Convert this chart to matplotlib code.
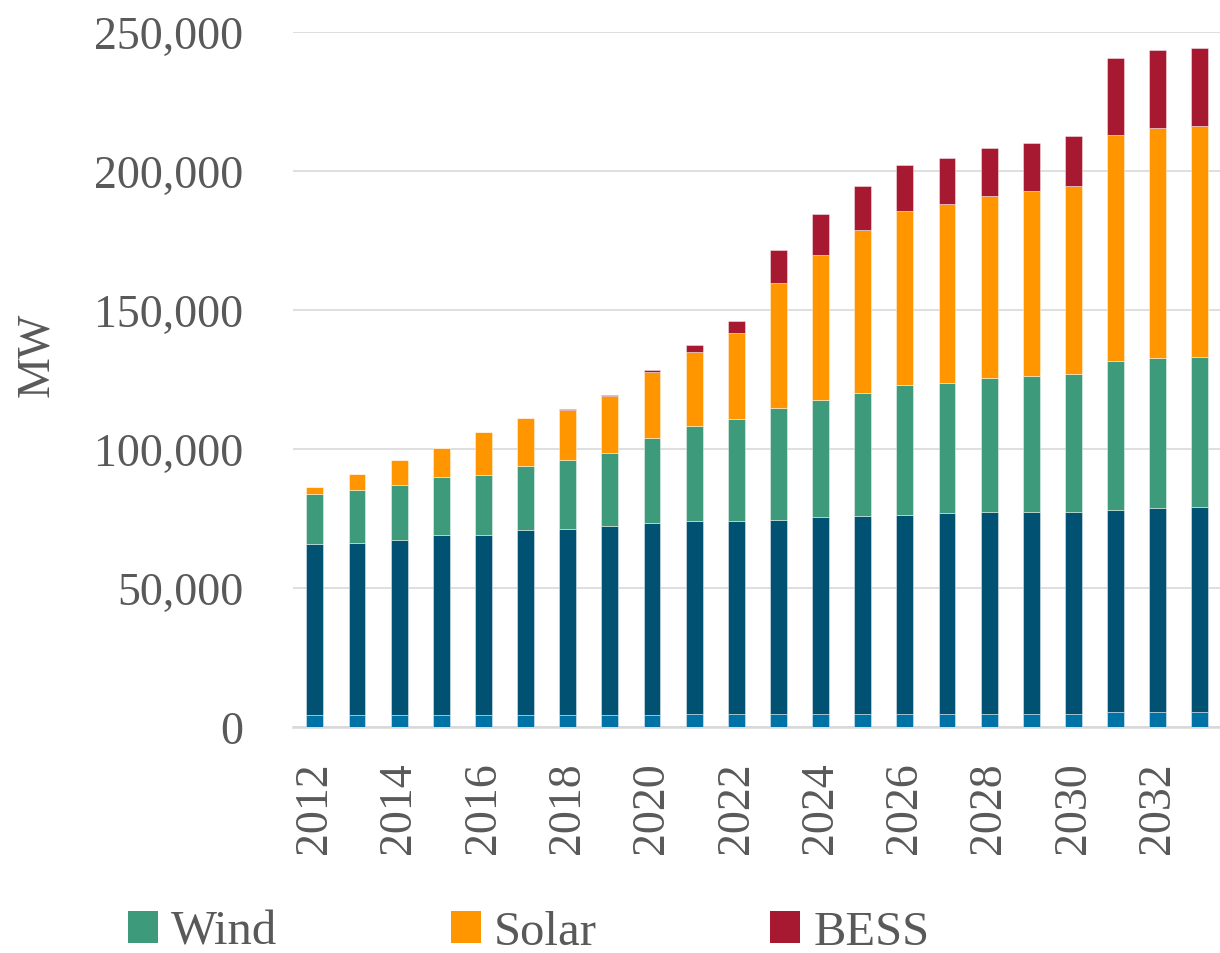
import numpy as np
import matplotlib
matplotlib.use("Agg")
import matplotlib.pyplot as plt
from matplotlib.patches import Patch
from matplotlib.ticker import FuncFormatter

plt.rcParams["font.family"] = ["Liberation Serif", "DejaVu Serif"]

TEXT = "#595959"

years = list(range(2012, 2034))

# stacked segments, MW
base_mw = [4400] * 9 + [4800] * 10 + [5400] * 3
conventional_mw = [61300, 61700, 62700, 64500, 64800, 66300, 67000, 67800, 69100,
                   69400, 69400, 69800, 70700, 71000, 71600, 72200, 72600, 72600,
                   72600, 72800, 73200, 73800]
wind_mw = [18200, 19000, 20100, 20900, 21400, 23300, 24500, 26200, 30500, 33900,
           36600, 40000, 42000, 44200, 46500, 46900, 48100, 48700, 49500, 53600,
           54000, 54000]
solar_mw = [2600, 5900, 8800, 10500, 15500, 17100, 18200, 20800, 23800, 26900,
            30800, 45200, 52400, 58700, 62600, 64100, 65600, 66600, 67800, 81300,
            82900, 83100]
bess_mw = [0, 0, 0, 0, 0, 0, 200, 300, 700, 2500, 4500, 11900, 14800, 15900,
           16600, 16500, 17300, 17500, 17900, 27600, 28000, 28100]

series = [
    ("Base", base_mw, "#0073A6"),
    ("Conventional", conventional_mw, "#005172"),
    ("Wind", wind_mw, "#3D9A7B"),
    ("Solar", solar_mw, "#FF9600"),
    ("BESS", bess_mw, "#A71930"),
]

fig = plt.figure(figsize=(12.2, 9.54), dpi=100)
ax = fig.add_axes([293 / 1220, 1 - 728 / 954, 1 - 293 / 1220, (728 - 33) / 954])

x = np.arange(len(years))
bottom = np.zeros(len(years))
for name, vals, col in series:
    vals = np.array(vals, dtype=float)
    ax.bar(x, vals, 0.4, bottom=bottom, color=col, edgecolor=(1, 1, 1, 0.5),
           linewidth=0.6, zorder=3)
    bottom += vals

ax.set_xlim(-0.52, len(years) - 0.52)
ax.set_ylim(0, 250000)
ax.set_yticks(np.arange(0, 250001, 50000))
ax.yaxis.set_major_formatter(FuncFormatter(lambda v, p: f"{int(v):,}"))
ax.grid(axis="y", color="#D9D9D9", linewidth=1.2, zorder=0)

ax.set_xticks(x[::2])
ax.set_xticklabels([str(y) for y in years[::2]], rotation=90)

for s in ["top", "right", "left"]:
    ax.spines[s].set_visible(False)
ax.spines["bottom"].set_color("#D9D9D9")
ax.spines["bottom"].set_linewidth(1.8)

ax.tick_params(axis="y", length=0, pad=36, labelsize=33, labelcolor=TEXT)
ax.tick_params(axis="x", length=0, pad=25, labelsize=33, labelcolor=TEXT)

fig.text(37 / 1220, 1 - 355 / 954, "MW", rotation=90, ha="center", va="center",
         fontsize=33, color=TEXT)

handles = [Patch(facecolor=col, label=name) for name, _, col in series[2:]]
leg = fig.legend(handles=handles, loc="center left",
                 bbox_to_anchor=(128 / 1220, 1 - 933 / 954), ncol=3,
                 frameon=False, fontsize=35, handlelength=0.62, handleheight=0.62,
                 handletextpad=0.27, columnspacing=3.56, borderpad=0,
                 borderaxespad=0)
for t in leg.get_texts():
    t.set_color(TEXT)

fig.savefig("out.png", dpi=100)
